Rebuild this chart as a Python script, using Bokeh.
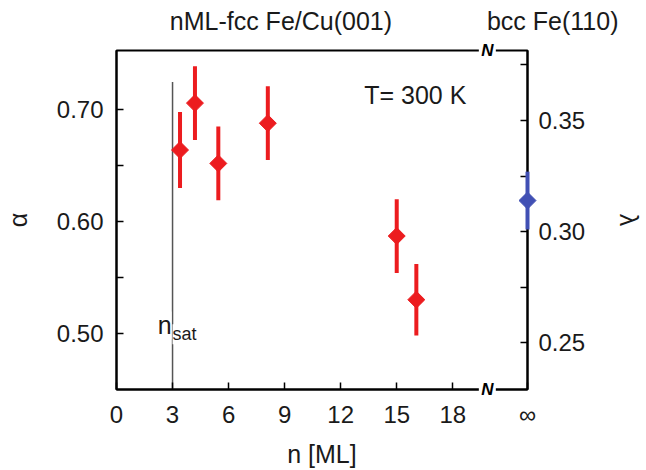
from bokeh.plotting import figure
from bokeh.models import (Range1d, LinearAxis, FixedTicker, Label, ColumnDataSource)
from bokeh.core.properties import value
from bokeh.embed import file_html
from bokeh.resources import INLINE
import math

# ---------------- data ----------------
n_ml = [3.4, 4.2, 5.45, 8.1, 15.0, 16.05]
alpha = [0.664, 0.706, 0.652, 0.688, 0.587, 0.530]
alpha_err = [0.034, 0.033, 0.033, 0.033, 0.033, 0.032]

n_bulk = [22]          # position of the "infinity" tick
lam = [0.314]
lam_err = [0.013]

n_sat = 3
x_ticks = [0, 3, 6, 9, 12, 15, 18, 22]
x_tick_labels = {22: "\u221e"}
alpha_ticks = [0.50, 0.60, 0.70]
alpha_minor = [0.55, 0.65]
lam_ticks = [0.25, 0.30, 0.35]
lam_minor = [0.275, 0.325, 0.375]

titles = ["nML-fcc Fe/Cu(001)", "bcc Fe(110)"]
title_x = [8.8, 23.35]
break_x = 19.85

FONT = "Liberation Sans"
TXT = "#1a1a1a"
RED = "#ec1c1f"
BLUE = "#4150b4"

X0, X1 = 0, 22
Y0, Y1 = 0.4496, 0.7531

p = figure(width=646, height=470, output_backend="svg", toolbar_location=None,
           x_range=Range1d(X0, X1), y_range=Range1d(Y0, Y1),
           min_border_left=116, min_border_right=113, min_border_top=50,
           min_border_bottom=77, title=None)
p.extra_y_ranges = {"lam": Range1d(0.2290, 0.3815)}
p.grid.visible = False
p.outline_line_color = "black"
p.outline_line_width = 2
p.background_fill_color = "white"
p.border_fill_color = "white"

# x axis
xa = p.xaxis[0]
xa.ticker = FixedTicker(ticks=x_ticks)
xa.major_label_overrides = x_tick_labels
xa.axis_label = "n [ML]"

# left axis
ya = p.yaxis[0]
ya.ticker = FixedTicker(ticks=alpha_ticks, minor_ticks=alpha_minor)
ya.major_label_overrides = {v: f"{v:.2f}" for v in alpha_ticks}
ya.axis_label = "\u03b1"

# right axis
ra = LinearAxis(y_range_name="lam", axis_label="\u03bb",
                ticker=FixedTicker(ticks=lam_ticks, minor_ticks=lam_minor))
ra.major_label_overrides = {v: f"{v:.2f}" for v in lam_ticks}
p.add_layout(ra, "right")

for ax in [xa, ya, ra]:
    ax.axis_line_width = 2
    ax.axis_line_color = "black"
    ax.major_tick_in = 7
    ax.major_tick_out = 0
    ax.minor_tick_in = 7
    ax.minor_tick_out = 0
    ax.major_tick_line_width = 1.5
    ax.minor_tick_line_width = 1.5
    ax.major_label_text_font = FONT
    ax.major_label_text_font_size = "24px"
    ax.major_label_text_color = TXT
    ax.axis_label_text_font = FONT
    ax.axis_label_text_font_size = "25px"
    ax.axis_label_text_font_style = "normal"
    ax.axis_label_text_color = TXT
xa.minor_tick_line_color = None
xa.major_label_standoff = 11
xa.axis_label_standoff = 9
ya.major_label_standoff = 13
ya.axis_label_standoff = 22
ra.major_label_standoff = 11
ra.axis_label_standoff = 27

# n_sat line
p.segment(x0=[n_sat], y0=[0.7250], x1=[n_sat], y1=[Y0],
          line_color="#555555", line_width=1.5)
p.add_layout(Label(x=n_sat, y=0.507, text="n", text_font=FONT, text_font_size="25px",
                   text_color=TXT, text_align="right", text_baseline="middle",
                   background_fill_color="white", x_offset=-1))
p.add_layout(Label(x=n_sat, y=0.499, text="sat", text_font=FONT, text_font_size="18px",
                   text_color=TXT, text_align="left", text_baseline="middle",
                   background_fill_color="white"))

# red data
src = ColumnDataSource(dict(n=n_ml, a=alpha,
                            lo=[a - e for a, e in zip(alpha, alpha_err)],
                            hi=[a + e for a, e in zip(alpha, alpha_err)]))
p.segment(x0="n", y0="lo", x1="n", y1="hi", source=src, line_color=RED, line_width=4)
p.scatter(x="n", y="a", source=src, marker="square", angle=math.pi / 4, size=12,
          fill_color=RED, line_color=RED)

# blue bulk point (drawn on top of the right spine, not clipped)
bsrc = ColumnDataSource(dict(n=n_bulk, l=lam,
                             lo=[a - e for a, e in zip(lam, lam_err)],
                             hi=[a + e for a, e in zip(lam, lam_err)]))
p.segment(x0="n", y0="lo", x1="n", y1="hi", source=bsrc, line_color=BLUE,
          line_width=4, y_range_name="lam", level="overlay")
p.scatter(x="n", y="l", source=bsrc, marker="square", angle=math.pi / 4, size=12,
          fill_color=BLUE, line_color=BLUE, y_range_name="lam", level="overlay")

# texts
p.add_layout(Label(x=13.26, y=0.713, text="T= 300 K", text_font=FONT,
                   text_font_size="25px", text_color=TXT, text_baseline="middle"))
p.text(x=title_x, y=[0.7795, 0.7795], text=titles, text_font=value(FONT),
       text_font_size="25px", text_color=TXT, text_align="center",
       text_baseline="middle", level="overlay")

# axis breaks
p.rect(x=[break_x, break_x], y=[Y0, Y1], width=17, height=8, width_units="screen",
       height_units="screen", fill_color="white", line_color=None, level="overlay")
p.text(x=[break_x, break_x], y=[Y0, Y1], text=["N", "N"], text_font=value(FONT),
       text_font_size="17px", text_font_style="bold italic", text_color="black",
       text_align="center", text_baseline="middle", level="overlay")

open("out.html", "w").write(file_html(p, INLINE))
